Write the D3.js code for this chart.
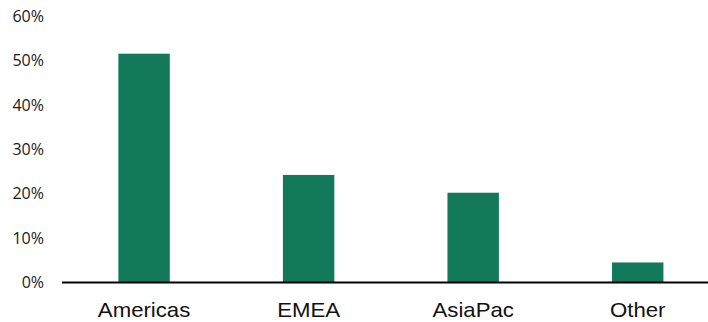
<!DOCTYPE html>
<html>
<head>
<meta charset="utf-8">
<script src="https://cdn.jsdelivr.net/npm/d3@7"></script>
<style>
  html, body { margin: 0; padding: 0; background: #fff; }
  svg { display: block; }
</style>
</head>
<body>
<svg id="chart" width="708" height="322"></svg>
<script>
const categories = ["Americas", "EMEA", "AsiaPac", "Other"];
const values = [51.4, 24.1, 20.1, 4.4];
const tickValues = [0, 10, 20, 30, 40, 50, 60];
const tickLabels = ["0%", "10%", "20%", "30%", "40%", "50%", "60%"];

const svg = d3.select("#chart");

const x = d3.scaleBand()
  .domain(categories)
  .range([61.8, 720])
  .paddingInner(0.6875)
  .paddingOuter(0.34375);

const y = d3.scaleLinear()
  .domain([0, 60])
  .range([282, 15.5]);

// bars
svg.append("g")
  .selectAll("rect")
  .data(values)
  .join("rect")
  .attr("x", (d, i) => x(categories[i]))
  .attr("width", x.bandwidth())
  .attr("y", d => y(d))
  .attr("height", d => y(0) - y(d))
  .attr("fill", "#127a5a");

// y tick labels
const yAxis = d3.axisLeft(y)
  .tickValues(tickValues)
  .tickFormat((d, i) => tickLabels[i])
  .tickSize(0)
  .tickPadding(0);

const yg = svg.append("g")
  .attr("transform", "translate(44,0)")
  .call(yAxis);
yg.select(".domain").remove();
yg.selectAll("text")
  .attr("font-family", "'Open Sans', sans-serif")
  .attr("font-size", "16px")
  .attr("fill", "#1a1a1a")
  .attr("dy", "0.36em");

// x axis
const xAxis = d3.axisBottom(x).tickSize(0).tickPadding(0);
const xg = svg.append("g")
  .attr("transform", `translate(0,${y(0)})`)
  .call(xAxis);
xg.select(".domain").remove();
xg.append("line")
  .attr("x1", 62)
  .attr("x2", 720)
  .attr("y1", 0.5)
  .attr("y2", 0.5)
  .attr("stroke", "#000")
  .attr("stroke-width", 2.2);
xg.selectAll(".tick text")
  .attr("font-family", "'Liberation Sans', Arial, sans-serif")
  .attr("font-size", "20px")
  .attr("fill", "#111")
  .attr("y", 0)
  .attr("dy", 0)
  .attr("transform", "translate(0,34.7) scale(1.11,1)");
</script>
</body>
</html>
